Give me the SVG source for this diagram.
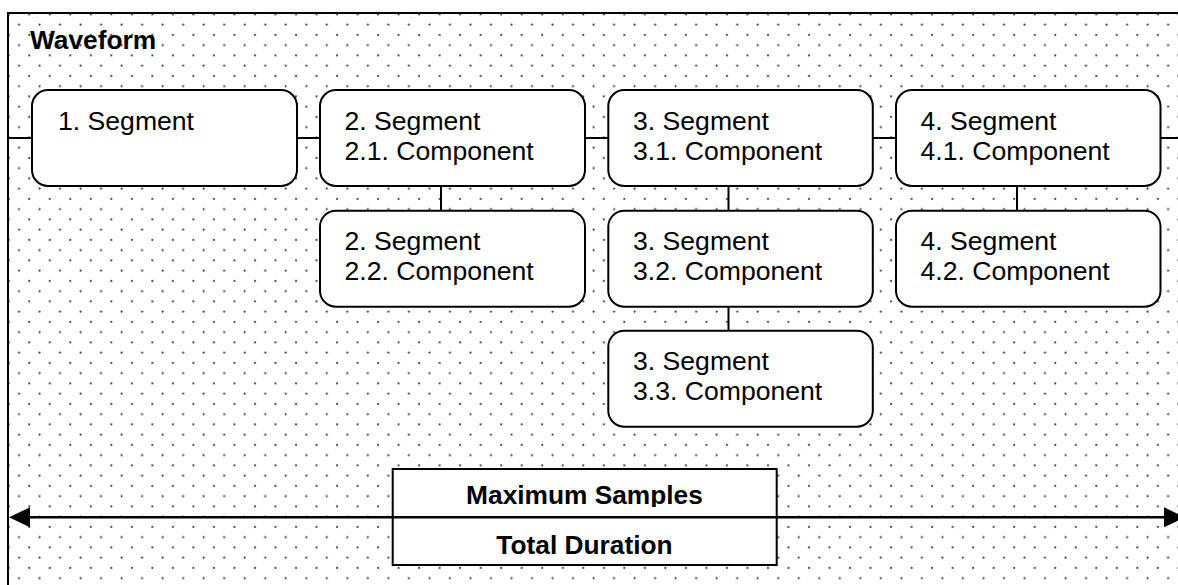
<svg xmlns="http://www.w3.org/2000/svg" width="1178" height="585" viewBox="0 0 1178 585">
  <defs>
    <pattern id="dots" patternUnits="userSpaceOnUse" x="3.74" y="9.45" width="20.52" height="20.5">
      <circle cx="5" cy="5" r="1.1" fill="#333"/>
      <circle cx="15.26" cy="15.25" r="1.1" fill="#333"/>
    </pattern>
    <marker id="arrow" viewBox="0 0 21 20" refX="0" refY="10" markerWidth="21" markerHeight="20" markerUnits="userSpaceOnUse" orient="auto-start-reverse">
      <path d="M0,0 L21,10 L0,20 Z" fill="#000"/>
    </marker>
    <clipPath id="clipMax">
      <rect x="392" y="469" width="385" height="38"/>
    </clipPath>
    <style>
      .node { fill: #fff; stroke: #000; stroke-width: 2; }
      .lbl { font-family: "Liberation Sans", Arial, sans-serif; font-size: 26.6px; fill: #000; }
      .bold { font-family: "Liberation Sans", Arial, sans-serif; font-size: 26.3px; font-weight: bold; fill: #000; }
      .conn { stroke: #000; stroke-width: 2; fill: none; }
    </style>
  </defs>

  <rect x="0" y="0" width="1178" height="585" fill="#fff"/>
  <g id="frame">
    <rect x="8" y="13" width="1180" height="590" fill="url(#dots)" stroke="#000" stroke-width="2"/>
    <text class="bold" x="30" y="49">Waveform</text>
  </g>

  <g id="connectors">
    <line class="conn" x1="8" y1="138" x2="32" y2="138"/>
    <line class="conn" x1="297" y1="138" x2="320" y2="138"/>
    <line class="conn" x1="585" y1="138" x2="608" y2="138"/>
    <line class="conn" x1="873" y1="138" x2="896" y2="138"/>
    <line class="conn" x1="1161" y1="138" x2="1188" y2="138"/>
    <line class="conn" x1="441" y1="186" x2="441" y2="211"/>
    <line class="conn" x1="728.5" y1="186" x2="728.5" y2="211"/>
    <line class="conn" x1="728.5" y1="306.5" x2="728.5" y2="331"/>
    <line class="conn" x1="1017" y1="186" x2="1017" y2="211"/>
  </g>

  <g id="seg1">
    <rect class="node" x="32" y="90" width="265" height="96" rx="16"/>
    <text class="lbl" x="58" y="129.5">1. Segment</text>
  </g>
  <g id="seg2-1">
    <rect class="node" x="320" y="90" width="265" height="96" rx="16"/>
    <text class="lbl" x="344.5" y="129.5">2. Segment</text>
    <text class="lbl" x="344.5" y="159.5">2.1. Component</text>
  </g>
  <g id="seg2-2">
    <rect class="node" x="320" y="210.7" width="265" height="96" rx="16"/>
    <text class="lbl" x="344.5" y="250">2. Segment</text>
    <text class="lbl" x="344.5" y="280">2.2. Component</text>
  </g>
  <g id="seg3-1">
    <rect class="node" x="608.3" y="90" width="264.5" height="96" rx="16"/>
    <text class="lbl" x="633" y="129.5">3. Segment</text>
    <text class="lbl" x="633" y="159.5">3.1. Component</text>
  </g>
  <g id="seg3-2">
    <rect class="node" x="608.3" y="210.7" width="264.5" height="96" rx="16"/>
    <text class="lbl" x="633" y="250">3. Segment</text>
    <text class="lbl" x="633" y="280">3.2. Component</text>
  </g>
  <g id="seg3-3">
    <rect class="node" x="608.3" y="330.7" width="264.5" height="96" rx="16"/>
    <text class="lbl" x="633" y="370">3. Segment</text>
    <text class="lbl" x="633" y="400">3.3. Component</text>
  </g>
  <g id="seg4-1">
    <rect class="node" x="896" y="90" width="264.5" height="96" rx="16"/>
    <text class="lbl" x="920.5" y="129.5">4. Segment</text>
    <text class="lbl" x="920.5" y="159.5">4.1. Component</text>
  </g>
  <g id="seg4-2">
    <rect class="node" x="896" y="210.7" width="264.5" height="96" rx="16"/>
    <text class="lbl" x="920.5" y="250">4. Segment</text>
    <text class="lbl" x="920.5" y="280">4.2. Component</text>
  </g>

  <g id="duration">
    <rect x="392.7" y="469" width="384" height="96" fill="#fff" stroke="#000" stroke-width="2"/>
    <line x1="30" y1="517.3" x2="1164" y2="517.3" stroke="#000" stroke-width="2.5" marker-start="url(#arrow)" marker-end="url(#arrow)"/>
    <text class="bold" x="584.5" y="504" text-anchor="middle" clip-path="url(#clipMax)">Maximum Samples</text>
    <text class="bold" x="584.5" y="553.5" text-anchor="middle">Total Duration</text>
  </g>
</svg>
